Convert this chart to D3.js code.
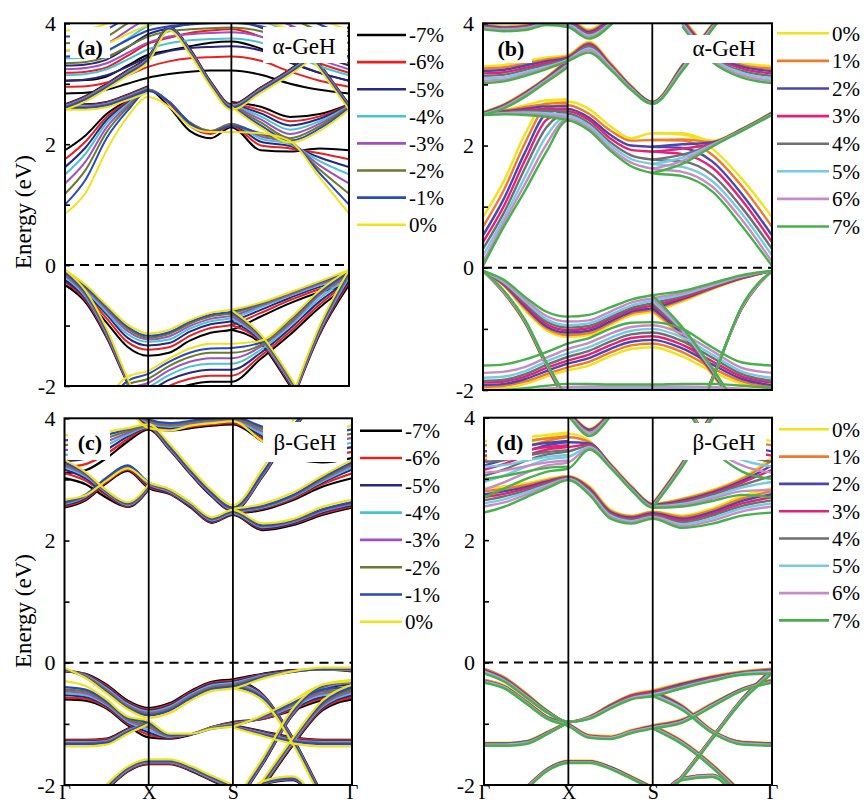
<!DOCTYPE html>
<html>
<head>
<meta charset="utf-8">
<script src="https://cdn.jsdelivr.net/npm/d3@7"></script>
<style>
  body { margin: 0; background: #fff; }
  svg { display: block; }
</style>
</head>
<body>
<div id="chart"></div>
<script>
// k-path positions (Γ-X = X-S = 1, S-Γ = √2) and labels
const kPoints = [0, 0.25, 0.5, 0.75, 1, 1.25, 1.5, 1.75, 2, 2.354, 2.707, 3.061, 3.414]
const kTicks = [0, 1, 2, 3.414]
const kLabels = ['Γ', 'X', 'S', 'Γ']
const energyTicks = [-2, -1, 0, 1, 2, 3, 4]

const strainsCompressive = ['-7%', '-6%', '-5%', '-4%', '-3%', '-2%', '-1%', '0%']
const strainsTensile = ['0%', '1%', '2%', '3%', '4%', '5%', '6%', '7%']
const colorsCompressive = ['#000000', '#e8201e', '#27277f', '#47c3d6', '#a24fc0', '#6b7a2e', '#2a4ab8', '#f2e21c']
const colorsTensile = ['#f2e21c', '#f07a2c', '#4a46b0', '#e61f78', '#6f6f6f', '#76cbe2', '#c98ac8', '#48b04a']

const _ = null

// ---------- (a) alpha-GeH, compressive (rows: -7% ... 0%) ----------
const a_cb1 = [
  [1.90, 2.15, 2.50, 2.72, 2.90, 2.62, 2.22, 2.10, 2.28, 1.90, 1.88, 1.93, 1.90],
  [1.75, 2.05, 2.45, 2.70, 2.90, 2.68, 2.30, 2.17, 2.30, 1.98, 1.93, 1.85, 1.75],
  [1.62, 1.95, 2.40, 2.68, 2.90, 2.70, 2.33, 2.20, 2.32, 2.04, 1.97, 1.78, 1.62],
  [1.50, 1.85, 2.35, 2.66, 2.90, 2.70, 2.35, 2.21, 2.33, 2.09, 2.00, 1.72, 1.50],
  [1.35, 1.72, 2.28, 2.63, 2.90, 2.70, 2.36, 2.22, 2.34, 2.13, 2.02, 1.65, 1.35],
  [1.18, 1.58, 2.20, 2.60, 2.90, 2.70, 2.36, 2.22, 2.33, 2.16, 2.03, 1.58, 1.18],
  [1.00, 1.42, 2.10, 2.55, 2.88, 2.70, 2.35, 2.20, 2.30, 2.18, 2.05, 1.52, 1.00],
  [0.85, 1.20, 1.90, 2.45, 2.78, 2.62, 2.30, 2.20, 2.20, 2.18, 2.05, 1.45, 0.85]
]
const a_cb2 = [
  [2.66, 2.80, 3.00, 3.22, 3.45, 3.94, 3.58, 3.04, 2.66, 2.94, 3.24, 3.59, 3.94],
  [2.65, 2.79, 2.99, 3.21, 3.44, 3.93, 3.57, 3.03, 2.65, 2.93, 3.23, 3.58, 3.93],
  [2.64, 2.78, 2.98, 3.20, 3.43, 3.93, 3.56, 3.02, 2.64, 2.92, 3.22, 3.57, 3.92],
  [2.63, 2.77, 2.97, 3.19, 3.42, 3.92, 3.55, 3.01, 2.63, 2.91, 3.21, 3.56, 3.91],
  [2.62, 2.76, 2.96, 3.18, 3.41, 3.92, 3.54, 3.00, 2.62, 2.90, 3.20, 3.55, 3.90],
  [2.61, 2.75, 2.95, 3.17, 3.40, 3.91, 3.53, 2.99, 2.61, 2.89, 3.19, 3.54, 3.89],
  [2.60, 2.74, 2.94, 3.16, 3.39, 3.91, 3.52, 2.98, 2.60, 2.88, 3.18, 3.53, 3.88],
  [2.57, 2.71, 2.91, 3.13, 3.36, 3.88, 3.49, 2.95, 2.57, 2.85, 3.15, 3.50, 3.85]
]
const a_cb3 = [
  [2.66, 2.66, 2.70, 2.82, 2.96, _, _, _, _, _, 3.97, 3.33, 2.66],
  [2.65, 2.65, 2.69, 2.81, 2.95, _, _, _, _, _, 3.96, 3.32, 2.65],
  [2.64, 2.64, 2.68, 2.80, 2.94, _, _, _, _, _, 3.95, 3.31, 2.64],
  [2.63, 2.63, 2.67, 2.79, 2.93, _, _, _, _, _, 3.94, 3.30, 2.63],
  [2.62, 2.62, 2.66, 2.78, 2.92, _, _, _, _, _, 3.93, 3.29, 2.62],
  [2.61, 2.61, 2.65, 2.77, 2.91, _, _, _, _, _, 3.92, 3.28, 2.61],
  [2.60, 2.60, 2.64, 2.76, 2.90, _, _, _, _, _, 3.91, 3.27, 2.60],
  [2.57, 2.57, 2.61, 2.73, 2.85, _, _, _, _, _, 3.88, 3.24, 2.57]
]
const a_cb4 = [
  [_, _, _, _, _, _, _, _, 2.70, 2.62, 2.45, 2.50, 2.66],
  [_, _, _, _, _, _, _, _, 2.68, 2.56, 2.38, 2.46, 2.65],
  [_, _, _, _, _, _, _, _, 2.67, 2.51, 2.31, 2.42, 2.64],
  [_, _, _, _, _, _, _, _, 2.66, 2.46, 2.24, 2.38, 2.63],
  [_, _, _, _, _, _, _, _, 2.65, 2.41, 2.17, 2.34, 2.62],
  [_, _, _, _, _, _, _, _, 2.64, 2.36, 2.10, 2.30, 2.61],
  [_, _, _, _, _, _, _, _, 2.63, 2.31, 2.06, 2.26, 2.60],
  [_, _, _, _, _, _, _, _, 2.62, 2.27, 2.03, 2.22, 2.57]
]
const a_up1 = [
  [2.84, 2.85, 2.90, 3.00, 3.10, 3.16, 3.20, 3.22, 3.22, 3.15, 3.00, 2.90, 2.84],
  [2.95, 2.96, 3.02, 3.14, 3.28, 3.37, 3.42, 3.44, 3.45, 3.38, 3.20, 3.05, 2.95],
  [3.05, 3.07, 3.14, 3.28, 3.44, 3.54, 3.59, 3.61, 3.62, 3.55, 3.36, 3.18, 3.05],
  [3.14, 3.16, 3.24, 3.40, 3.57, 3.67, 3.72, 3.74, 3.75, 3.68, 3.49, 3.29, 3.14],
  [3.24, 3.26, 3.34, 3.51, 3.68, 3.78, 3.82, 3.84, 3.85, 3.78, 3.60, 3.40, 3.24],
  [3.34, 3.36, 3.44, 3.61, 3.78, 3.87, 3.90, 3.92, 3.93, 3.87, 3.70, 3.50, 3.34],
  [3.45, 3.47, 3.55, 3.72, 3.88, 3.95, 3.98, 4.00, 4.01, 3.95, 3.80, 3.60, 3.45],
  [3.56, 3.58, 3.66, 3.82, 3.97, 4.04, 4.07, 4.09, 4.10, 4.04, 3.90, 3.72, 3.56]
]
const a_up2 = [
  [3.05, 3.06, 3.12, 3.30, 3.48, 3.55, 3.62, 3.68, 3.70, 3.58, 3.35, 3.18, 3.05],
  [3.18, 3.20, 3.27, 3.46, 3.66, 3.76, 3.84, 3.88, 3.90, 3.78, 3.54, 3.34, 3.18],
  [3.30, 3.32, 3.40, 3.60, 3.82, 3.92, 3.99, 4.02, 4.04, 3.93, 3.70, 3.48, 3.30],
  [3.42, 3.44, 3.53, 3.74, 3.96, 4.05, 4.10, 4.12, 4.14, 4.05, 3.84, 3.62, 3.42],
  [3.55, 3.57, 3.66, 3.88, 4.08, 4.15, 4.20, 4.20, 4.20, 4.15, 3.97, 3.75, 3.55],
  [3.67, 3.69, 3.78, 4.00, 4.20, 4.25, 4.30, 4.30, 4.30, 4.25, 4.08, 3.87, 3.67],
  [3.78, 3.80, 3.90, 4.10, 4.30, 4.35, 4.40, 4.40, 4.40, 4.35, 4.20, 3.98, 3.78],
  [3.88, 3.90, 4.00, 4.20, 4.40, 4.45, 4.50, 4.50, 4.50, 4.45, 4.30, 4.08, 3.88]
]
const a_v1 = [
  [-0.33, -0.55, -0.95, -1.35, -1.50, -1.45, -1.25, -1.12, -1.07, -0.85, -0.63, -0.45, -0.33],
  [-0.28, -0.50, -0.88, -1.27, -1.40, -1.36, -1.17, -1.04, -0.99, -0.79, -0.58, -0.40, -0.28],
  [-0.25, -0.47, -0.82, -1.20, -1.33, -1.29, -1.10, -0.98, -0.93, -0.74, -0.54, -0.36, -0.24],
  [-0.20, -0.43, -0.78, -1.14, -1.27, -1.23, -1.05, -0.93, -0.88, -0.70, -0.51, -0.33, -0.20],
  [-0.17, -0.40, -0.74, -1.09, -1.23, -1.18, -1.01, -0.89, -0.84, -0.67, -0.49, -0.31, -0.17],
  [-0.14, -0.38, -0.71, -1.05, -1.20, -1.14, -0.97, -0.85, -0.80, -0.65, -0.47, -0.29, -0.14],
  [-0.12, -0.36, -0.69, -1.02, -1.17, -1.11, -0.94, -0.82, -0.77, -0.63, -0.46, -0.28, -0.12],
  [-0.08, -0.33, -0.66, -0.98, -1.13, -1.07, -0.91, -0.79, -0.74, -0.62, -0.45, -0.27, -0.08]
]
const a_v2 = [
  [-0.33, -0.62, -1.20, -1.95, -2.60, _, _, _, _, _, -2.35, -1.15, -0.33],
  [-0.28, -0.59, -1.18, -1.94, -2.60, _, _, _, _, _, -2.34, -1.13, -0.28],
  [-0.25, -0.56, -1.16, -1.93, -2.60, _, _, _, _, _, -2.33, -1.11, -0.25],
  [-0.20, -0.53, -1.14, -1.92, -2.60, _, _, _, _, _, -2.32, -1.09, -0.20],
  [-0.17, -0.50, -1.12, -1.91, -2.60, _, _, _, _, _, -2.31, -1.07, -0.17],
  [-0.14, -0.48, -1.10, -1.90, -2.60, _, _, _, _, _, -2.30, -1.05, -0.14],
  [-0.12, -0.46, -1.08, -1.89, -2.60, _, _, _, _, _, -2.29, -1.03, -0.12],
  [-0.08, -0.43, -1.05, -1.87, -2.60, _, _, _, _, _, -2.27, -1.00, -0.08]
]
const a_v3 = [
  [-3.00, -3.00, -2.80, -2.45, -2.30, -2.10, -1.98, -1.93, -1.93, -1.55, -1.15, -0.70, -0.33],
  [-3.00, -3.00, -2.70, -2.35, -2.20, -2.00, -1.88, -1.83, -1.83, -1.50, -1.10, -0.65, -0.28],
  [-3.00, -2.95, -2.60, -2.25, -2.10, -1.90, -1.78, -1.73, -1.73, -1.45, -1.05, -0.60, -0.25],
  [-3.00, -2.90, -2.50, -2.15, -2.02, -1.82, -1.68, -1.63, -1.63, -1.40, -1.00, -0.55, -0.20],
  [-3.00, -2.85, -2.42, -2.05, -1.95, -1.74, -1.60, -1.54, -1.54, -1.35, -0.97, -0.50, -0.17],
  [-3.00, -2.80, -2.35, -1.98, -1.88, -1.67, -1.52, -1.45, -1.45, -1.32, -0.94, -0.47, -0.14],
  [-3.00, -2.75, -2.28, -1.92, -1.80, -1.60, -1.45, -1.38, -1.37, -1.28, -0.90, -0.45, -0.12],
  [-3.00, -2.70, -2.20, -1.85, -1.75, -1.55, -1.38, -1.30, -1.30, -1.25, -0.88, -0.42, -0.08]
]
const a_v4 = [
  [_, _, _, _, _, _, _, _, -1.07, -1.30, -2.00, -2.70, _],
  [_, _, _, _, _, _, _, _, -0.99, -1.27, -1.97, -2.70, _],
  [_, _, _, _, _, _, _, _, -0.93, -1.25, -1.95, -2.70, _],
  [_, _, _, _, _, _, _, _, -0.88, -1.23, -1.93, -2.70, _],
  [_, _, _, _, _, _, _, _, -0.84, -1.21, -1.91, -2.70, _],
  [_, _, _, _, _, _, _, _, -0.80, -1.19, -1.89, -2.70, _],
  [_, _, _, _, _, _, _, _, -0.77, -1.17, -1.87, -2.70, _],
  [_, _, _, _, _, _, _, _, -0.74, -1.15, -1.85, -2.70, _]
]

// ---------- (b) alpha-GeH, tensile (rows: 0% ... 7%) ----------
const b_cb1 = [
  [0.83, 1.43, 2.20, 2.70, 2.72, 2.60, 2.32, 2.12, 2.20, 2.18, 1.95, 1.45, 0.83],
  [0.67, 1.28, 2.05, 2.62, 2.66, 2.52, 2.25, 2.08, 2.09, 2.08, 1.85, 1.33, 0.67],
  [0.53, 1.14, 1.90, 2.52, 2.60, 2.46, 2.18, 2.00, 1.98, 1.96, 1.74, 1.20, 0.53],
  [0.42, 1.02, 1.77, 2.42, 2.56, 2.42, 2.12, 1.93, 1.90, 1.86, 1.64, 1.10, 0.42],
  [0.31, 0.91, 1.64, 2.30, 2.52, 2.37, 2.06, 1.84, 1.77, 1.74, 1.52, 0.98, 0.31],
  [0.20, 0.82, 1.50, 2.16, 2.48, 2.33, 2.01, 1.78, 1.70, 1.65, 1.42, 0.88, 0.20],
  [0.10, 0.75, 1.38, 2.02, 2.44, 2.29, 1.96, 1.72, 1.62, 1.57, 1.33, 0.78, 0.10],
  [0.03, 0.68, 1.27, 1.90, 2.41, 2.25, 1.92, 1.66, 1.55, 1.50, 1.25, 0.68, 0.03]
]
const b_cb2 = [
  [2.55, 2.58, 2.66, 2.74, 2.76, _, _, _, 2.20, 2.20, 2.08, 2.28, 2.55],
  [2.54, 2.57, 2.63, 2.68, 2.70, _, _, _, 2.09, 2.10, 2.06, 2.27, 2.54],
  [2.53, 2.56, 2.60, 2.64, 2.64, _, _, _, 1.98, 2.02, 2.05, 2.27, 2.53],
  [2.52, 2.55, 2.58, 2.60, 2.60, _, _, _, 1.90, 1.95, 2.03, 2.26, 2.52],
  [2.52, 2.54, 2.56, 2.57, 2.55, _, _, _, 1.77, 1.85, 2.02, 2.26, 2.52],
  [2.51, 2.53, 2.54, 2.53, 2.50, _, _, _, 1.70, 1.80, 2.01, 2.25, 2.51],
  [2.50, 2.52, 2.52, 2.50, 2.46, _, _, _, 1.62, 1.75, 2.00, 2.25, 2.50],
  [2.50, 2.51, 2.50, 2.47, 2.42, _, _, _, 1.55, 1.70, 1.98, 2.24, 2.50]
]
const b_cb3 = [
  [3.30, 3.32, 3.38, 3.44, 3.48, 3.70, 3.36, 2.98, 2.72, 3.32, 3.98, 4.50, _],
  [3.26, 3.28, 3.34, 3.41, 3.46, 3.68, 3.35, 2.97, 2.71, 3.31, 3.97, 4.50, _],
  [3.22, 3.24, 3.31, 3.38, 3.44, 3.66, 3.33, 2.96, 2.71, 3.30, 3.96, 4.50, _],
  [3.18, 3.20, 3.27, 3.35, 3.42, 3.64, 3.32, 2.95, 2.70, 3.29, 3.95, 4.50, _],
  [3.14, 3.16, 3.24, 3.32, 3.41, 3.62, 3.30, 2.94, 2.70, 3.28, 3.94, 4.50, _],
  [3.10, 3.12, 3.20, 3.29, 3.40, 3.59, 3.29, 2.93, 2.69, 3.26, 3.93, 4.50, _],
  [3.06, 3.08, 3.17, 3.27, 3.39, 3.56, 3.27, 2.92, 2.69, 3.24, 3.92, 4.50, _],
  [3.02, 3.05, 3.14, 3.25, 3.38, 3.52, 3.25, 2.91, 2.68, 3.22, 3.90, 4.50, _]
]
const b_cb4 = [
  [_, _, _, _, _, _, _, _, _, 4.10, 3.55, 3.35, 3.30],
  [_, _, _, _, _, _, _, _, _, 4.08, 3.53, 3.32, 3.26],
  [_, _, _, _, _, _, _, _, _, 4.06, 3.50, 3.29, 3.22],
  [_, _, _, _, _, _, _, _, _, 4.04, 3.48, 3.26, 3.18],
  [_, _, _, _, _, _, _, _, _, 4.02, 3.45, 3.22, 3.14],
  [_, _, _, _, _, _, _, _, _, 4.00, 3.43, 3.19, 3.10],
  [_, _, _, _, _, _, _, _, _, 3.98, 3.40, 3.15, 3.06],
  [_, _, _, _, _, _, _, _, _, 3.95, 3.37, 3.11, 3.02]
]
const b_cb5 = [
  [3.98, 3.95, 3.97, 4.05, 4.08, 3.90, 4.10, 4.40, _, _, _, _, _],
  [3.97, 3.94, 3.96, 4.04, 4.06, 3.88, 4.08, 4.40, _, _, _, _, _],
  [3.96, 3.93, 3.95, 4.03, 4.04, 3.86, 4.06, 4.40, _, _, _, _, _],
  [3.95, 3.92, 3.94, 4.02, 4.02, 3.84, 4.04, 4.40, _, _, _, _, _],
  [3.94, 3.91, 3.93, 4.01, 4.00, 3.82, 4.02, 4.40, _, _, _, _, _],
  [3.93, 3.90, 3.92, 4.00, 3.98, 3.80, 4.00, 4.40, _, _, _, _, _],
  [3.92, 3.89, 3.91, 3.99, 3.96, 3.78, 3.98, 4.40, _, _, _, _, _],
  [3.90, 3.87, 3.89, 3.97, 3.94, 3.75, 3.96, 4.40, _, _, _, _, _]
]
const b_cb6 = [
  [2.55, 2.68, 2.88, 3.12, 3.42, _, _, _, _, _, _, _, _],
  [2.54, 2.67, 2.87, 3.11, 3.40, _, _, _, _, _, _, _, _],
  [2.53, 2.66, 2.86, 3.10, 3.38, _, _, _, _, _, _, _, _],
  [2.52, 2.65, 2.85, 3.09, 3.36, _, _, _, _, _, _, _, _],
  [2.52, 2.64, 2.84, 3.08, 3.34, _, _, _, _, _, _, _, _],
  [2.51, 2.63, 2.83, 3.07, 3.32, _, _, _, _, _, _, _, _],
  [2.50, 2.62, 2.82, 3.06, 3.30, _, _, _, _, _, _, _, _],
  [2.50, 2.61, 2.80, 3.04, 3.28, _, _, _, _, _, _, _, _]
]
const b_v1 = [
  [-0.05, -0.30, -0.70, -1.02, -1.13, -1.10, -0.94, -0.78, -0.72, -0.55, -0.35, -0.18, -0.05],
  [-0.05, -0.29, -0.67, -0.99, -1.10, -1.07, -0.91, -0.75, -0.69, -0.53, -0.34, -0.17, -0.05],
  [-0.05, -0.28, -0.64, -0.96, -1.06, -1.03, -0.88, -0.72, -0.66, -0.51, -0.33, -0.17, -0.05],
  [-0.05, -0.27, -0.61, -0.92, -1.02, -0.99, -0.84, -0.69, -0.62, -0.49, -0.32, -0.16, -0.05],
  [-0.05, -0.25, -0.58, -0.88, -0.98, -0.95, -0.81, -0.66, -0.58, -0.46, -0.30, -0.15, -0.05],
  [-0.05, -0.24, -0.55, -0.84, -0.94, -0.91, -0.77, -0.62, -0.54, -0.44, -0.29, -0.14, -0.05],
  [-0.05, -0.22, -0.52, -0.79, -0.88, -0.86, -0.72, -0.57, -0.50, -0.41, -0.27, -0.13, -0.05],
  [-0.05, -0.20, -0.48, -0.72, -0.80, -0.77, -0.65, -0.52, -0.45, -0.38, -0.25, -0.12, -0.05]
]
const b_v2 = [
  [_, _, _, _, _, _, _, _, -0.72, -1.15, -1.75, -2.40, _],
  [_, _, _, _, _, _, _, _, -0.69, -1.12, -1.73, -2.40, _],
  [_, _, _, _, _, _, _, _, -0.66, -1.09, -1.71, -2.40, _],
  [_, _, _, _, _, _, _, _, -0.62, -1.06, -1.70, -2.40, _],
  [_, _, _, _, _, _, _, _, -0.58, -1.04, -1.68, -2.40, _],
  [_, _, _, _, _, _, _, _, -0.54, -1.02, -1.67, -2.40, _],
  [_, _, _, _, _, _, _, _, -0.50, -0.99, -1.65, -2.40, _],
  [_, _, _, _, _, _, _, _, -0.45, -0.97, -1.64, -2.40, _]
]
const b_v3 = [
  [_, _, _, _, _, _, _, _, _, -2.90, -1.80, -0.66, -0.05],
  [_, _, _, _, _, _, _, _, _, -2.90, -1.81, -0.66, -0.05],
  [_, _, _, _, _, _, _, _, _, -2.90, -1.81, -0.65, -0.05],
  [_, _, _, _, _, _, _, _, _, -2.90, -1.82, -0.65, -0.05],
  [_, _, _, _, _, _, _, _, _, -2.90, -1.83, -0.64, -0.05],
  [_, _, _, _, _, _, _, _, _, -2.90, -1.83, -0.64, -0.05],
  [_, _, _, _, _, _, _, _, _, -2.90, -1.84, -0.63, -0.05],
  [_, _, _, _, _, _, _, _, _, -2.90, -1.85, -0.62, -0.05]
]
const b_v4 = [
  [-0.05, -0.42, -0.92, -1.62, -2.25, _, _, _, _, _, _, _, _],
  [-0.05, -0.42, -0.91, -1.61, -2.24, _, _, _, _, _, _, _, _],
  [-0.05, -0.41, -0.90, -1.60, -2.22, _, _, _, _, _, _, _, _],
  [-0.05, -0.41, -0.89, -1.59, -2.21, _, _, _, _, _, _, _, _],
  [-0.05, -0.40, -0.89, -1.58, -2.20, _, _, _, _, _, _, _, _],
  [-0.05, -0.40, -0.88, -1.57, -2.18, _, _, _, _, _, _, _, _],
  [-0.05, -0.39, -0.87, -1.56, -2.17, _, _, _, _, _, _, _, _],
  [-0.05, -0.38, -0.86, -1.55, -2.15, _, _, _, _, _, _, _, _]
]
const b_v5 = [
  [-1.98, -1.97, -1.90, -1.78, -1.68, -1.60, -1.45, -1.33, -1.30, -1.45, -1.70, -1.90, -1.98],
  [-1.95, -1.93, -1.86, -1.74, -1.63, -1.54, -1.39, -1.27, -1.24, -1.38, -1.64, -1.86, -1.95],
  [-1.92, -1.90, -1.82, -1.69, -1.57, -1.48, -1.33, -1.21, -1.18, -1.32, -1.58, -1.82, -1.92],
  [-1.88, -1.86, -1.78, -1.64, -1.52, -1.42, -1.27, -1.15, -1.12, -1.26, -1.53, -1.78, -1.88],
  [-1.85, -1.83, -1.74, -1.59, -1.46, -1.36, -1.21, -1.09, -1.06, -1.20, -1.47, -1.74, -1.85],
  [-1.80, -1.78, -1.69, -1.53, -1.40, -1.30, -1.15, -1.03, -1.00, -1.14, -1.42, -1.70, -1.80],
  [-1.72, -1.70, -1.62, -1.47, -1.33, -1.23, -1.08, -0.97, -0.94, -1.08, -1.36, -1.64, -1.72],
  [-1.60, -1.58, -1.50, -1.38, -1.24, -1.15, -1.00, -0.90, -0.89, -1.00, -1.30, -1.55, -1.60]
]
const b_v6 = [
  [-2.30, -2.30, -2.25, -2.20, -2.15, -2.12, -2.10, -2.10, -2.10, -2.12, -2.15, -2.20, -2.25],
  [-2.25, -2.25, -2.20, -2.15, -2.10, -2.08, -2.06, -2.06, -2.06, -2.08, -2.10, -2.15, -2.20],
  [-2.20, -2.20, -2.15, -2.10, -2.06, -2.04, -2.03, -2.03, -2.03, -2.04, -2.06, -2.10, -2.15],
  [-2.15, -2.15, -2.10, -2.06, -2.02, -2.00, -1.99, -1.99, -1.99, -2.00, -2.02, -2.06, -2.10],
  [-2.10, -2.10, -2.06, -2.02, -1.99, -1.98, -1.97, -1.97, -1.97, -1.98, -1.99, -2.02, -2.06],
  [-2.08, -2.08, -2.04, -2.00, -1.97, -1.96, -1.96, -1.96, -1.96, -1.96, -1.97, -2.00, -2.04],
  [-2.05, -2.05, -2.02, -1.98, -1.95, -1.94, -1.94, -1.94, -1.94, -1.94, -1.95, -1.98, -2.02],
  [-2.02, -2.00, -1.97, -1.93, -1.90, -1.90, -1.91, -1.91, -1.91, -1.90, -1.90, -1.93, -1.97]
]

// ---------- (c) beta-GeH, compressive (rows: -7% ... 0%) ----------
const c_cb1 = [
  [2.54, 2.66, 2.94, 3.14, 2.86, 2.76, 2.54, 2.29, 2.42, 2.17, 2.25, 2.42, 2.54],
  [2.56, 2.68, 2.96, 3.16, 2.88, 2.77, 2.55, 2.30, 2.43, 2.19, 2.27, 2.44, 2.56],
  [2.58, 2.70, 2.98, 3.18, 2.90, 2.78, 2.56, 2.31, 2.44, 2.20, 2.28, 2.46, 2.58],
  [2.60, 2.72, 3.00, 3.20, 2.92, 2.80, 2.58, 2.33, 2.45, 2.22, 2.30, 2.48, 2.60],
  [2.61, 2.73, 3.01, 3.21, 2.93, 2.81, 2.59, 2.34, 2.46, 2.23, 2.31, 2.49, 2.61],
  [2.62, 2.74, 3.02, 3.22, 2.94, 2.82, 2.60, 2.35, 2.47, 2.24, 2.32, 2.50, 2.62],
  [2.63, 2.75, 3.03, 3.23, 2.95, 2.83, 2.61, 2.36, 2.48, 2.25, 2.33, 2.51, 2.63],
  [2.67, 2.74, 2.98, 3.18, 2.95, 2.84, 2.62, 2.38, 2.50, 2.28, 2.35, 2.55, 2.67]
]
const c_cb2 = [
  [3.02, 2.92, 2.70, 2.55, 2.84, _, _, _, 2.44, 2.50, 2.66, 2.88, 3.02],
  [3.10, 2.98, 2.74, 2.56, 2.85, _, _, _, 2.45, 2.52, 2.68, 2.92, 3.10],
  [3.16, 3.02, 2.76, 2.57, 2.86, _, _, _, 2.46, 2.53, 2.70, 2.95, 3.16],
  [3.20, 3.05, 2.78, 2.58, 2.87, _, _, _, 2.47, 2.54, 2.71, 2.97, 3.20],
  [3.23, 3.07, 2.79, 2.59, 2.88, _, _, _, 2.48, 2.55, 2.72, 2.99, 3.23],
  [3.26, 3.09, 2.80, 2.60, 2.89, _, _, _, 2.49, 2.56, 2.73, 3.01, 3.26],
  [3.28, 3.10, 2.81, 2.61, 2.90, _, _, _, 2.50, 2.57, 2.74, 3.03, 3.28],
  [3.32, 3.12, 2.82, 2.63, 2.92, _, _, _, 2.52, 2.60, 2.78, 3.06, 3.32]
]
const c_cb3 = [
  [3.10, 3.15, 3.35, 3.62, 3.82, 3.48, 3.08, 2.72, 2.48, 3.05, 3.80, 4.40, _],
  [3.20, 3.25, 3.42, 3.66, 3.84, 3.49, 3.09, 2.73, 2.49, 3.06, 3.81, 4.40, _],
  [3.30, 3.34, 3.49, 3.70, 3.85, 3.50, 3.10, 2.74, 2.50, 3.07, 3.82, 4.40, _],
  [3.40, 3.44, 3.56, 3.73, 3.86, 3.51, 3.11, 2.75, 2.51, 3.08, 3.83, 4.40, _],
  [3.48, 3.52, 3.62, 3.76, 3.87, 3.52, 3.12, 2.76, 2.52, 3.09, 3.84, 4.40, _],
  [3.56, 3.60, 3.68, 3.79, 3.88, 3.53, 3.13, 2.77, 2.53, 3.10, 3.85, 4.40, _],
  [3.64, 3.67, 3.73, 3.82, 3.89, 3.54, 3.14, 2.78, 2.54, 3.11, 3.86, 4.40, _],
  [3.72, 3.74, 3.78, 3.84, 3.90, 3.58, 3.18, 2.82, 2.58, 3.18, 3.95, 4.50, _]
]
const c_cb4 = [
  [_, _, _, 4.20, 3.86, 3.80, 3.84, 3.88, 3.90, 3.62, 3.35, 3.28, 3.35],
  [_, _, _, 4.20, 3.88, 3.82, 3.86, 3.90, 3.92, 3.66, 3.42, 3.38, 3.45],
  [_, _, _, 4.20, 3.90, 3.84, 3.88, 3.92, 3.94, 3.70, 3.48, 3.46, 3.53],
  [_, _, _, 4.20, 3.92, 3.86, 3.90, 3.94, 3.96, 3.74, 3.54, 3.53, 3.60],
  [_, _, _, 4.20, 3.94, 3.88, 3.92, 3.96, 3.98, 3.78, 3.60, 3.60, 3.68],
  [_, _, _, 4.20, 3.96, 3.90, 3.94, 3.98, 4.00, 3.82, 3.66, 3.67, 3.75],
  [_, _, _, 4.20, 3.98, 3.92, 3.96, 4.00, 4.02, 3.86, 3.72, 3.74, 3.82],
  [_, _, _, 4.20, 3.84, 3.80, 3.88, 3.92, 3.95, 3.62, 3.38, 3.62, 3.90]
]
const c_v1 = [
  [-0.14, -0.18, -0.36, -0.62, -0.74, -0.66, -0.46, -0.31, -0.27, -0.18, -0.12, -0.11, -0.14],
  [-0.13, -0.19, -0.38, -0.64, -0.76, -0.68, -0.48, -0.33, -0.29, -0.19, -0.13, -0.11, -0.13],
  [-0.12, -0.20, -0.40, -0.66, -0.78, -0.70, -0.50, -0.35, -0.31, -0.20, -0.13, -0.11, -0.12],
  [-0.12, -0.21, -0.42, -0.68, -0.80, -0.72, -0.52, -0.37, -0.33, -0.21, -0.14, -0.11, -0.12],
  [-0.11, -0.22, -0.44, -0.70, -0.82, -0.74, -0.54, -0.39, -0.35, -0.22, -0.14, -0.11, -0.11],
  [-0.11, -0.23, -0.46, -0.72, -0.84, -0.76, -0.56, -0.41, -0.37, -0.23, -0.15, -0.11, -0.11],
  [-0.10, -0.24, -0.48, -0.74, -0.86, -0.78, -0.58, -0.43, -0.39, -0.24, -0.15, -0.10, -0.10],
  [-0.08, -0.25, -0.50, -0.76, -0.90, -0.82, -0.62, -0.46, -0.42, -0.26, -0.14, -0.08, -0.08]
]
const c_v2 = [
  [-0.60, -0.62, -0.75, -1.02, -1.22, -1.24, -1.18, -1.05, -0.97, -0.92, -0.78, -0.62, -0.60],
  [-0.57, -0.59, -0.73, -1.00, -1.18, -1.23, -1.17, -1.05, -0.98, -0.92, -0.76, -0.59, -0.57],
  [-0.53, -0.56, -0.71, -0.98, -1.14, -1.22, -1.17, -1.06, -0.99, -0.91, -0.74, -0.56, -0.53],
  [-0.50, -0.53, -0.69, -0.96, -1.10, -1.21, -1.17, -1.06, -1.00, -0.90, -0.72, -0.53, -0.50],
  [-0.47, -0.50, -0.67, -0.94, -1.06, -1.20, -1.17, -1.07, -1.01, -0.90, -0.70, -0.50, -0.47],
  [-0.44, -0.47, -0.65, -0.92, -1.02, -1.19, -1.17, -1.07, -1.02, -0.89, -0.68, -0.47, -0.44],
  [-0.40, -0.44, -0.63, -0.90, -0.98, -1.18, -1.17, -1.08, -1.03, -0.88, -0.66, -0.44, -0.40],
  [-0.30, -0.38, -0.60, -0.88, -0.95, -1.16, -1.16, -1.08, -1.04, -0.86, -0.62, -0.36, -0.30]
]
const c_v3 = [
  [-1.26, -1.26, -1.24, -1.08, -0.96, _, _, _, -1.02, -1.12, -1.22, -1.26, -1.26],
  [-1.27, -1.27, -1.25, -1.09, -0.97, _, _, _, -1.03, -1.13, -1.23, -1.27, -1.27],
  [-1.29, -1.29, -1.27, -1.10, -0.97, _, _, _, -1.03, -1.14, -1.25, -1.29, -1.29],
  [-1.30, -1.30, -1.28, -1.11, -0.98, _, _, _, -1.04, -1.15, -1.26, -1.30, -1.30],
  [-1.31, -1.31, -1.29, -1.12, -0.98, _, _, _, -1.04, -1.16, -1.27, -1.31, -1.31],
  [-1.32, -1.32, -1.30, -1.13, -0.99, _, _, _, -1.05, -1.17, -1.28, -1.32, -1.32],
  [-1.33, -1.33, -1.31, -1.14, -0.99, _, _, _, -1.05, -1.18, -1.29, -1.33, -1.33],
  [-1.37, -1.37, -1.34, -1.16, -1.00, _, _, _, -1.06, -1.20, -1.32, -1.37, -1.37]
]
const c_v4 = [
  [-2.65, -2.42, -2.08, -1.78, -1.66, -1.66, -1.77, -1.93, -2.08, _, _, _, _],
  [-2.64, -2.41, -2.07, -1.77, -1.65, -1.65, -1.76, -1.92, -2.07, _, _, _, _],
  [-2.63, -2.40, -2.06, -1.76, -1.64, -1.64, -1.75, -1.91, -2.06, _, _, _, _],
  [-2.62, -2.39, -2.05, -1.75, -1.63, -1.63, -1.74, -1.90, -2.05, _, _, _, _],
  [-2.61, -2.38, -2.04, -1.74, -1.62, -1.62, -1.73, -1.89, -2.04, _, _, _, _],
  [-2.60, -2.37, -2.03, -1.73, -1.61, -1.61, -1.72, -1.88, -2.03, _, _, _, _],
  [-2.59, -2.36, -2.02, -1.72, -1.60, -1.60, -1.71, -1.87, -2.02, _, _, _, _],
  [-2.56, -2.33, -1.99, -1.70, -1.58, -1.58, -1.69, -1.85, -2.00, _, _, _, _]
]
const c_v5 = [
  [_, _, _, _, _, _, _, _, -2.52, -1.99, -1.92, -2.52, _],
  [_, _, _, _, _, _, _, _, -2.52, -1.99, -1.91, -2.52, _],
  [_, _, _, _, _, _, _, _, -2.51, -1.98, -1.91, -2.51, _],
  [_, _, _, _, _, _, _, _, -2.51, -1.98, -1.90, -2.51, _],
  [_, _, _, _, _, _, _, _, -2.50, -1.97, -1.90, -2.50, _],
  [_, _, _, _, _, _, _, _, -2.50, -1.97, -1.89, -2.50, _],
  [_, _, _, _, _, _, _, _, -2.49, -1.96, -1.89, -2.49, _],
  [_, _, _, _, _, _, _, _, -2.48, -1.94, -1.86, -2.48, _]
]
const c_v6 = [
  [_, _, _, _, _, _, _, _, -0.27, -0.52, -1.22, -2.15, -3.00],
  [_, _, _, _, _, _, _, _, -0.29, -0.53, -1.23, -2.16, -3.00],
  [_, _, _, _, _, _, _, _, -0.31, -0.54, -1.24, -2.17, -3.00],
  [_, _, _, _, _, _, _, _, -0.33, -0.55, -1.25, -2.18, -3.00],
  [_, _, _, _, _, _, _, _, -0.35, -0.56, -1.26, -2.19, -3.00],
  [_, _, _, _, _, _, _, _, -0.37, -0.57, -1.27, -2.20, -3.00],
  [_, _, _, _, _, _, _, _, -0.39, -0.58, -1.28, -2.21, -3.00],
  [_, _, _, _, _, _, _, _, -0.42, -0.62, -1.32, -2.25, -3.00]
]
const c_v7 = [
  [_, _, _, _, _, _, _, _, -2.40, -1.66, -0.86, -0.44, -0.34],
  [_, _, _, _, _, _, _, _, -2.39, -1.65, -0.85, -0.43, -0.33],
  [_, _, _, _, _, _, _, _, -2.38, -1.64, -0.84, -0.42, -0.33],
  [_, _, _, _, _, _, _, _, -2.37, -1.63, -0.83, -0.41, -0.32],
  [_, _, _, _, _, _, _, _, -2.36, -1.62, -0.82, -0.40, -0.31],
  [_, _, _, _, _, _, _, _, -2.35, -1.61, -0.81, -0.39, -0.31],
  [_, _, _, _, _, _, _, _, -2.34, -1.60, -0.80, -0.38, -0.30],
  [_, _, _, _, _, _, _, _, -2.30, -1.56, -0.76, -0.36, -0.28]
]
const c_v8 = [
  [_, _, _, _, _, _, _, _, -2.75, -2.05, -1.36, -0.78, -0.60],
  [_, _, _, _, _, _, _, _, -2.73, -2.03, -1.34, -0.76, -0.57],
  [_, _, _, _, _, _, _, _, -2.71, -2.01, -1.32, -0.74, -0.53],
  [_, _, _, _, _, _, _, _, -2.70, -2.00, -1.31, -0.72, -0.50],
  [_, _, _, _, _, _, _, _, -2.68, -1.98, -1.29, -0.70, -0.47],
  [_, _, _, _, _, _, _, _, -2.67, -1.97, -1.28, -0.68, -0.44],
  [_, _, _, _, _, _, _, _, -2.65, -1.95, -1.26, -0.66, -0.40],
  [_, _, _, _, _, _, _, _, -2.62, -1.92, -1.24, -0.62, -0.36]
]

// ---------- (d) beta-GeH, tensile (rows: 0% ... 7%) ----------
const d_cb1 = [
  [2.85, 2.88, 2.93, 3.00, 3.05, 2.88, 2.50, 2.40, 2.47, 2.40, 2.52, 2.72, 2.85],
  [2.80, 2.84, 2.90, 2.98, 3.04, 2.86, 2.48, 2.39, 2.46, 2.38, 2.49, 2.68, 2.80],
  [2.75, 2.80, 2.87, 2.96, 3.03, 2.84, 2.46, 2.37, 2.44, 2.35, 2.46, 2.64, 2.75],
  [2.70, 2.76, 2.84, 2.94, 3.02, 2.82, 2.44, 2.35, 2.42, 2.32, 2.43, 2.60, 2.70],
  [2.65, 2.72, 2.81, 2.92, 3.01, 2.80, 2.42, 2.33, 2.40, 2.29, 2.40, 2.56, 2.65],
  [2.60, 2.67, 2.78, 2.90, 3.00, 2.78, 2.40, 2.31, 2.38, 2.26, 2.36, 2.52, 2.60],
  [2.55, 2.62, 2.74, 2.88, 2.99, 2.76, 2.38, 2.29, 2.37, 2.23, 2.32, 2.47, 2.55],
  [2.45, 2.55, 2.70, 2.85, 2.98, 2.74, 2.35, 2.27, 2.35, 2.20, 2.27, 2.40, 2.45]
]
const d_cb2 = [
  [3.35, 3.45, 3.58, 3.68, 3.74, 3.62, 3.25, 2.88, 2.60, 2.68, 2.82, 3.02, 3.35],
  [3.30, 3.40, 3.52, 3.62, 3.68, 3.60, 3.24, 2.87, 2.59, 2.67, 2.80, 3.00, 3.30],
  [3.22, 3.32, 3.45, 3.55, 3.60, 3.58, 3.23, 2.86, 2.58, 2.65, 2.78, 2.97, 3.22],
  [3.15, 3.25, 3.38, 3.48, 3.52, 3.56, 3.22, 2.85, 2.57, 2.63, 2.76, 2.94, 3.15],
  [3.05, 3.16, 3.30, 3.40, 3.45, 3.54, 3.21, 2.84, 2.56, 2.61, 2.74, 2.90, 3.05],
  [2.95, 3.06, 3.20, 3.32, 3.36, 3.52, 3.20, 2.83, 2.55, 2.59, 2.71, 2.86, 2.95],
  [2.82, 2.95, 3.10, 3.22, 3.27, 3.50, 3.19, 2.82, 2.54, 2.57, 2.68, 2.80, 2.82],
  [2.70, 2.85, 3.00, 3.12, 3.17, 3.48, 3.18, 2.81, 2.53, 2.55, 2.64, 2.74, 2.70]
]
const d_cb3 = [
  [_, _, _, 4.35, 4.10, 3.82, 4.10, 4.45, _, _, _, _, _],
  [_, _, _, 4.35, 4.09, 3.81, 4.09, 4.45, _, _, _, _, _],
  [_, _, _, 4.35, 4.08, 3.80, 4.08, 4.45, _, _, _, _, _],
  [_, _, _, 4.35, 4.07, 3.78, 4.07, 4.45, _, _, _, _, _],
  [_, _, _, 4.35, 4.06, 3.77, 4.06, 4.45, _, _, _, _, _],
  [_, _, _, 4.35, 4.05, 3.75, 4.05, 4.45, _, _, _, _, _],
  [_, _, _, 4.35, 4.04, 3.74, 4.04, 4.45, _, _, _, _, _],
  [_, _, _, 4.35, 4.02, 3.70, 4.02, 4.45, _, _, _, _, _]
]
const d_cb4 = [
  [_, _, _, _, _, _, _, _, 2.60, 3.28, 4.08, 4.60, _],
  [_, _, _, _, _, _, _, _, 2.59, 3.27, 4.07, 4.60, _],
  [_, _, _, _, _, _, _, _, 2.58, 3.26, 4.06, 4.60, _],
  [_, _, _, _, _, _, _, _, 2.57, 3.25, 4.05, 4.60, _],
  [_, _, _, _, _, _, _, _, 2.56, 3.24, 4.04, 4.60, _],
  [_, _, _, _, _, _, _, _, 2.55, 3.23, 4.03, 4.60, _],
  [_, _, _, _, _, _, _, _, 2.54, 3.22, 4.02, 4.60, _],
  [_, _, _, _, _, _, _, _, 2.53, 3.20, 4.00, 4.60, _]
]
const d_cb5 = [
  [_, _, _, _, _, _, _, _, _, 4.35, 3.72, 3.68, 3.62],
  [_, _, _, _, _, _, _, _, _, 4.34, 3.69, 3.62, 3.55],
  [_, _, _, _, _, _, _, _, _, 4.33, 3.66, 3.54, 3.45],
  [_, _, _, _, _, _, _, _, _, 4.32, 3.63, 3.47, 3.38],
  [_, _, _, _, _, _, _, _, _, 4.31, 3.60, 3.39, 3.28],
  [_, _, _, _, _, _, _, _, _, 4.30, 3.57, 3.31, 3.20],
  [_, _, _, _, _, _, _, _, _, 4.29, 3.54, 3.22, 3.10],
  [_, _, _, _, _, _, _, _, _, 4.28, 3.50, 3.12, 3.00]
]
const d_cb6 = [
  [3.62, 3.64, 3.68, 3.72, 3.76, _, _, _, _, _, _, _, _],
  [3.55, 3.57, 3.62, 3.66, 3.70, _, _, _, _, _, _, _, _],
  [3.45, 3.48, 3.54, 3.59, 3.62, _, _, _, _, _, _, _, _],
  [3.38, 3.41, 3.47, 3.52, 3.55, _, _, _, _, _, _, _, _],
  [3.28, 3.31, 3.38, 3.44, 3.47, _, _, _, _, _, _, _, _],
  [3.20, 3.23, 3.30, 3.36, 3.39, _, _, _, _, _, _, _, _],
  [3.10, 3.14, 3.21, 3.27, 3.30, _, _, _, _, _, _, _, _],
  [3.00, 3.05, 3.12, 3.18, 3.20, _, _, _, _, _, _, _, _]
]
const d_v1 = [
  [-0.10, -0.25, -0.50, -0.78, -0.97, -0.88, -0.68, -0.52, -0.45, -0.33, -0.22, -0.14, -0.10],
  [-0.10, -0.25, -0.51, -0.79, -0.97, -0.88, -0.69, -0.53, -0.46, -0.34, -0.23, -0.15, -0.10],
  [-0.12, -0.27, -0.52, -0.79, -0.97, -0.89, -0.70, -0.54, -0.48, -0.35, -0.24, -0.16, -0.12],
  [-0.13, -0.28, -0.53, -0.80, -0.97, -0.89, -0.71, -0.55, -0.49, -0.37, -0.25, -0.17, -0.13],
  [-0.14, -0.29, -0.54, -0.80, -0.97, -0.90, -0.72, -0.57, -0.51, -0.38, -0.27, -0.17, -0.14],
  [-0.15, -0.30, -0.55, -0.81, -0.97, -0.90, -0.73, -0.58, -0.52, -0.40, -0.28, -0.18, -0.15],
  [-0.17, -0.31, -0.56, -0.82, -0.97, -0.91, -0.74, -0.59, -0.54, -0.41, -0.29, -0.19, -0.17],
  [-0.18, -0.32, -0.57, -0.82, -0.97, -0.92, -0.75, -0.60, -0.55, -0.42, -0.30, -0.20, -0.18]
]
const d_v2 = [
  [-0.28, -0.38, -0.62, -0.88, -1.00, -1.18, -1.20, -1.10, -1.02, -0.92, -0.66, -0.42, -0.28],
  [-0.28, -0.39, -0.63, -0.89, -1.00, -1.19, -1.21, -1.11, -1.03, -0.93, -0.67, -0.43, -0.28],
  [-0.30, -0.40, -0.64, -0.89, -1.01, -1.20, -1.22, -1.12, -1.04, -0.94, -0.68, -0.43, -0.30],
  [-0.30, -0.40, -0.64, -0.90, -1.02, -1.20, -1.22, -1.12, -1.05, -0.95, -0.69, -0.44, -0.30],
  [-0.31, -0.41, -0.65, -0.90, -1.02, -1.21, -1.23, -1.13, -1.06, -0.96, -0.70, -0.44, -0.31],
  [-0.31, -0.41, -0.65, -0.91, -1.03, -1.21, -1.23, -1.13, -1.06, -0.96, -0.70, -0.45, -0.31],
  [-0.32, -0.42, -0.66, -0.91, -1.03, -1.22, -1.24, -1.14, -1.07, -0.97, -0.71, -0.45, -0.32],
  [-0.33, -0.43, -0.67, -0.92, -1.04, -1.23, -1.25, -1.15, -1.08, -0.98, -0.72, -0.46, -0.33]
]
const d_v3 = [
  [-1.31, -1.31, -1.28, -1.13, -0.96, _, _, _, -0.45, -0.70, -1.10, -1.29, -1.31],
  [-1.32, -1.32, -1.29, -1.14, -0.96, _, _, _, -0.46, -0.71, -1.11, -1.30, -1.32],
  [-1.32, -1.32, -1.29, -1.14, -0.97, _, _, _, -0.48, -0.72, -1.12, -1.30, -1.32],
  [-1.33, -1.33, -1.30, -1.15, -0.97, _, _, _, -0.49, -0.73, -1.12, -1.31, -1.33],
  [-1.33, -1.33, -1.30, -1.15, -0.97, _, _, _, -0.51, -0.74, -1.13, -1.31, -1.33],
  [-1.34, -1.34, -1.31, -1.16, -0.98, _, _, _, -0.52, -0.75, -1.13, -1.32, -1.34],
  [-1.35, -1.35, -1.32, -1.16, -0.98, _, _, _, -0.54, -0.77, -1.14, -1.33, -1.35],
  [-1.36, -1.36, -1.33, -1.17, -0.98, _, _, _, -0.55, -0.78, -1.15, -1.34, -1.36]
]
const d_v4 = [
  [_, _, _, _, _, _, _, _, -1.02, -1.28, -1.66, -2.12, _],
  [_, _, _, _, _, _, _, _, -1.03, -1.29, -1.67, -2.13, _],
  [_, _, _, _, _, _, _, _, -1.04, -1.30, -1.68, -2.14, _],
  [_, _, _, _, _, _, _, _, -1.05, -1.30, -1.68, -2.15, _],
  [_, _, _, _, _, _, _, _, -1.06, -1.31, -1.69, -2.16, _],
  [_, _, _, _, _, _, _, _, -1.06, -1.32, -1.70, -2.17, _],
  [_, _, _, _, _, _, _, _, -1.07, -1.33, -1.71, -2.18, _],
  [_, _, _, _, _, _, _, _, -1.08, -1.34, -1.72, -2.20, _]
]
const d_v5 = [
  [_, _, _, _, _, _, _, _, -2.40, -1.84, -1.21, -0.58, -0.10],
  [_, _, _, _, _, _, _, _, -2.40, -1.84, -1.21, -0.59, -0.10],
  [_, _, _, _, _, _, _, _, -2.40, -1.85, -1.22, -0.59, -0.12],
  [_, _, _, _, _, _, _, _, -2.40, -1.85, -1.22, -0.60, -0.13],
  [_, _, _, _, _, _, _, _, -2.40, -1.86, -1.23, -0.61, -0.14],
  [_, _, _, _, _, _, _, _, -2.40, -1.86, -1.23, -0.61, -0.15],
  [_, _, _, _, _, _, _, _, -2.40, -1.87, -1.24, -0.62, -0.17],
  [_, _, _, _, _, _, _, _, -2.40, -1.88, -1.25, -0.63, -0.18]
]
const d_v6 = [
  [-2.58, -2.33, -2.03, -1.73, -1.60, -1.60, -1.70, -1.86, -2.03, _, _, _, _],
  [-2.58, -2.33, -2.03, -1.74, -1.61, -1.61, -1.71, -1.87, -2.04, _, _, _, _],
  [-2.59, -2.34, -2.04, -1.74, -1.61, -1.61, -1.71, -1.87, -2.04, _, _, _, _],
  [-2.59, -2.34, -2.04, -1.75, -1.62, -1.62, -1.72, -1.88, -2.05, _, _, _, _],
  [-2.60, -2.35, -2.05, -1.75, -1.62, -1.62, -1.72, -1.88, -2.05, _, _, _, _],
  [-2.60, -2.35, -2.05, -1.76, -1.63, -1.63, -1.73, -1.89, -2.06, _, _, _, _],
  [-2.61, -2.36, -2.06, -1.76, -1.63, -1.63, -1.73, -1.89, -2.06, _, _, _, _],
  [-2.62, -2.37, -2.07, -1.77, -1.64, -1.64, -1.74, -1.90, -2.07, _, _, _, _]
]
const d_v7 = [
  [_, _, _, _, _, _, _, _, -2.38, -1.88, -1.83, -2.38, _],
  [_, _, _, _, _, _, _, _, -2.38, -1.88, -1.83, -2.38, _],
  [_, _, _, _, _, _, _, _, -2.39, -1.89, -1.84, -2.39, _],
  [_, _, _, _, _, _, _, _, -2.39, -1.89, -1.84, -2.39, _],
  [_, _, _, _, _, _, _, _, -2.40, -1.90, -1.85, -2.40, _],
  [_, _, _, _, _, _, _, _, -2.40, -1.90, -1.85, -2.40, _],
  [_, _, _, _, _, _, _, _, -2.41, -1.91, -1.86, -2.41, _],
  [_, _, _, _, _, _, _, _, -2.42, -1.92, -1.87, -2.42, _]
]

const bandsA = [a_up2, a_up1, a_cb4, a_cb3, a_cb2, a_cb1, a_v3, a_v4, a_v2, a_v1]
const bandsB = [b_cb5, b_cb4, b_cb3, b_cb6, b_cb2, b_cb1, b_v6, b_v5, b_v4, b_v3, b_v2, b_v1]
const bandsC = [c_cb4, c_cb3, c_cb2, c_cb1, c_v5, c_v4, c_v8, c_v7, c_v6, c_v3, c_v2, c_v1]
const bandsD = [d_cb3, d_cb5, d_cb6, d_cb4, d_cb2, d_cb1, d_v7, d_v6, d_v5, d_v4, d_v3, d_v2, d_v1]

// panel layout
const panels = [
  { id: 'a', left: 65, right: 349, top: 23.3, bottom: 386, bands: bandsA,
    strains: strainsCompressive, colors: colorsCompressive, lw: 2,
    tag: '(a)', tagBox: [70, 27, 40, 31], tagXY: [90, 47],
    phase: 'α-GeH', phaseBox: [263, 27, 84, 36], phaseXY: [304, 46],
    legend: { x1: 357, x2: 406, tx: 409, y0: 35, dy: 27.1 },
    yTitle: 212, xLabels: false },
  { id: 'b', left: 483, right: 772, top: 23.3, bottom: 390, bands: bandsB,
    strains: strainsTensile, colors: colorsTensile, lw: 2.4,
    tag: '(b)', tagBox: [485, 33, 47, 30], tagXY: [511, 48],
    phase: 'α-GeH', phaseBox: [682, 35, 87, 28], phaseXY: [724, 48],
    legend: { x1: 777, x2: 829, tx: 832, y0: 33.3, dy: 27.6 },
    yTitle: null, xLabels: false },
  { id: 'c', left: 64.5, right: 352, top: 418.3, bottom: 785, bands: bandsC,
    strains: strainsCompressive, colors: colorsCompressive, lw: 2.2,
    tag: '(c)', tagBox: [68, 422, 42, 38], tagXY: [90, 442],
    phase: 'β-GeH', phaseBox: [263, 422, 84, 40], phaseXY: [305, 442],
    legend: { x1: 360, x2: 402, tx: 405, y0: 430.7, dy: 27.3 },
    yTitle: 611, xLabels: true },
  { id: 'd', left: 484, right: 772, top: 417.7, bottom: 785, bands: bandsD,
    strains: strainsTensile, colors: colorsTensile, lw: 2.4,
    tag: '(d)', tagBox: [487, 425, 45, 35], tagXY: [510, 442],
    phase: 'β-GeH', phaseBox: [682, 423, 84, 37], phaseXY: [724, 442],
    legend: { x1: 779, x2: 829, tx: 832, y0: 429.3, dy: 27.3 },
    yTitle: null, xLabels: true }
]

const serif = '"Liberation Serif", "Times New Roman", Times, serif'

var svg = d3.select('#chart').append('svg')
  .attr('width', 864)
  .attr('height', 806)
  .style('font-family', serif)

svg.append('rect').attr('width', 864).attr('height', 806).attr('fill', '#fff')

panels.forEach(function (p) {
  var x = d3.scaleLinear().domain([0, kPoints[kPoints.length - 1]]).range([p.left, p.right])
  var y = d3.scaleLinear().domain([-2, 4]).range([p.bottom, p.top])
  var g = svg.append('g').attr('class', 'panel-' + p.id)

  svg.append('clipPath').attr('id', 'clip-' + p.id)
    .append('rect')
    .attr('x', p.left).attr('y', p.top)
    .attr('width', p.right - p.left).attr('height', p.bottom - p.top)

  var line = d3.line()
    .defined(function (d) { return d !== null })
    .x(function (d, i) { return x(kPoints[i]) })
    .y(function (d) { return y(d) })
    .curve(d3.curveMonotoneX)

  var plot = g.append('g').attr('clip-path', 'url(#clip-' + p.id + ')')

  // strain by strain, so the last legend entry ends on top
  p.strains.forEach(function (s, si) {
    p.bands.forEach(function (band) {
      plot.append('path')
        .attr('d', line(band[si]))
        .attr('fill', 'none')
        .attr('stroke', p.colors[si])
        .attr('stroke-width', p.lw)
        .attr('stroke-linejoin', 'round')
    })
  })

  // Fermi level
  plot.append('line')
    .attr('x1', p.left).attr('x2', p.right)
    .attr('y1', y(0)).attr('y2', y(0))
    .attr('stroke', '#000').attr('stroke-width', 2)
    .attr('stroke-dasharray', '9,6')

  // high symmetry points
  kTicks.slice(1, 3).forEach(function (k) {
    g.append('line')
      .attr('x1', x(k)).attr('x2', x(k))
      .attr('y1', p.top).attr('y2', p.bottom)
      .attr('stroke', '#000').attr('stroke-width', 1.8)
  })

  g.append('rect')
    .attr('x', p.left).attr('y', p.top)
    .attr('width', p.right - p.left).attr('height', p.bottom - p.top)
    .attr('fill', 'none').attr('stroke', '#000').attr('stroke-width', 2)

  // y axis, ticks inward
  var yAxis = d3.axisLeft(y)
    .tickValues(energyTicks)
    .tickSizeInner(-5)
    .tickSizeOuter(0)
    .tickPadding(9)
    .tickFormat(function (d) { return d % 2 === 0 ? String(d) : '' })
  var ya = g.append('g')
    .attr('transform', 'translate(' + p.left + ',0)')
    .call(yAxis)
  ya.select('.domain').remove()
  ya.selectAll('line').attr('stroke-width', 1.6)
  ya.selectAll('text').attr('font-family', serif).attr('font-size', 22).attr('fill', '#000')

  if (p.xLabels) {
    var xAxis = d3.axisBottom(x)
      .tickValues(kTicks)
      .tickSize(0)
      .tickPadding(0)
      .tickFormat(function (d, i) { return kLabels[i] })
    var xa = g.append('g')
      .attr('transform', 'translate(0,' + p.bottom + ')')
      .call(xAxis)
    xa.select('.domain').remove()
    xa.selectAll('text')
      .attr('font-family', serif).attr('font-size', 20).attr('fill', '#000')
      .attr('dy', '0.68em')
  }

  if (p.yTitle !== null) {
    g.append('text')
      .attr('transform', 'translate(23,' + p.yTitle + ') rotate(-90)')
      .attr('text-anchor', 'middle')
      .attr('dy', '0.35em')
      .attr('font-size', 23)
      .text('Energy (eV)')
  }

  // panel tag and phase name in white boxes
  g.append('rect')
    .attr('x', p.tagBox[0]).attr('y', p.tagBox[1])
    .attr('width', p.tagBox[2]).attr('height', p.tagBox[3])
    .attr('fill', '#fff')
  g.append('text')
    .attr('x', p.tagXY[0]).attr('y', p.tagXY[1])
    .attr('text-anchor', 'middle').attr('dy', '0.35em')
    .attr('font-size', 22).attr('font-weight', 'bold')
    .text(p.tag)
  g.append('rect')
    .attr('x', p.phaseBox[0]).attr('y', p.phaseBox[1])
    .attr('width', p.phaseBox[2]).attr('height', p.phaseBox[3])
    .attr('fill', '#fff')
  g.append('text')
    .attr('x', p.phaseXY[0]).attr('y', p.phaseXY[1])
    .attr('text-anchor', 'middle').attr('dy', '0.35em')
    .attr('font-size', 23)
    .text(p.phase)

  // legend
  var lg = svg.append('g').attr('class', 'legend-' + p.id)
  p.strains.forEach(function (s, si) {
    var ly = p.legend.y0 + si * p.legend.dy
    lg.append('line')
      .attr('x1', p.legend.x1).attr('x2', p.legend.x2)
      .attr('y1', ly).attr('y2', ly)
      .attr('stroke', p.colors[si]).attr('stroke-width', 2.6)
    lg.append('text')
      .attr('x', p.legend.tx).attr('y', ly)
      .attr('dy', '0.35em')
      .attr('font-size', 21)
      .text(s)
  })
})
</script>
</body>
</html>
